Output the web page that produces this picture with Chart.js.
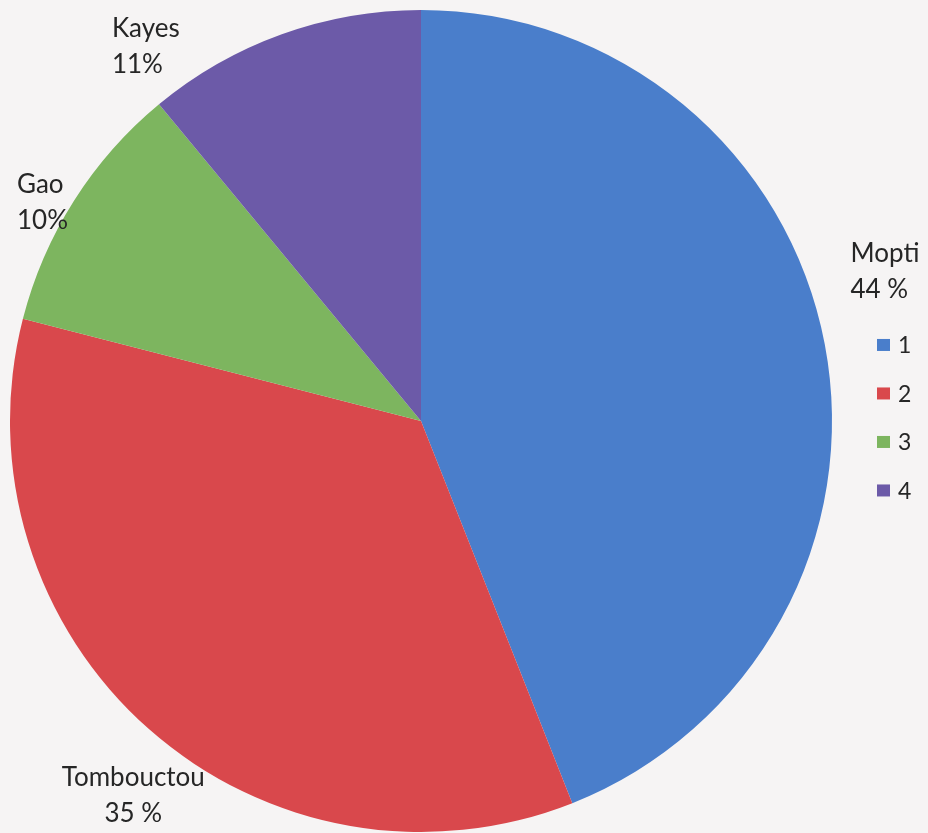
<!DOCTYPE html>
<html>
<head>
<meta charset="utf-8">
<script src="https://cdn.jsdelivr.net/npm/chart.js@4/dist/chart.umd.min.js"></script>
<style>
  html, body { margin: 0; padding: 0; background: #f6f4f4; }
  #wrap { width: 928px; height: 833px; position: relative; }
</style>
</head>
<body>
<div id="wrap"><canvas id="pie" width="928" height="833"></canvas></div>
<script>
// Regions and their shares (%)
const regions = ['Mopti', 'Tombouctou', 'Gao', 'Kayes'];
const shares = [44, 35, 10, 11];
const shareSeparators = [' ', ' ', '', ''];
const legendKeys = ['1', '2', '3', '4'];
const sliceColors = ['#4a7ecb', '#d9484c', '#7db55f', '#6c5aa8'];

// Where each slice's name/percent block sits relative to the pie
// (dx, dy from the pie centre in units of radius; align)
const labelPlacement = [
  { dx: 1.045, dy: -0.408, align: 'left' },
  { dx: -0.70, dy: 0.868, align: 'center' },
  { dx: -0.983, dy: -0.575, align: 'left' },
  { dx: -0.752, dy: -0.955, align: 'left' }
];

const textColor = '#262626';
const labelFont = '26px Lato, "Open Sans", sans-serif';

const sliceLabels = {
  id: 'sliceLabels',
  afterDraw(chart) {
    const { ctx } = chart;
    const arc = chart.getDatasetMeta(0).data[0];
    const cx = arc.x, cy = arc.y, r = arc.outerRadius;
    ctx.save();
    ctx.fillStyle = textColor;
    ctx.font = labelFont;
    ctx.textBaseline = 'middle';
    regions.forEach((name, i) => {
      const p = labelPlacement[i];
      const x = cx + p.dx * r;
      const y = cy + p.dy * r;
      ctx.textAlign = p.align;
      ctx.fillText(name, x, y);
      ctx.fillText(shares[i] + shareSeparators[i] + '%', x, y + 36);
    });

    // legend keys to the right of the pie
    const lx = cx + r + 45;
    const ly = cy - r * 0.185;
    ctx.font = '23px Lato, "Open Sans", sans-serif';
    ctx.textAlign = 'left';
    legendKeys.forEach((k, i) => {
      const y = ly + i * 48.5;
      ctx.fillStyle = sliceColors[i];
      ctx.fillRect(lx, y - 6, 13, 12);
      ctx.fillStyle = textColor;
      ctx.fillText(k, lx + 21, y + 1);
    });
    ctx.restore();
  }
};

new Chart(document.getElementById('pie'), {
  type: 'pie',
  data: {
    labels: legendKeys,
    datasets: [{
      data: shares,
      backgroundColor: sliceColors,
      borderWidth: 0
    }]
  },
  options: {
    responsive: false,
    animation: false,
    layout: { padding: { left: 10, top: 10, right: 96, bottom: 1 } },
    plugins: {
      legend: { display: false },
      tooltip: { enabled: false }
    }
  },
  plugins: [sliceLabels]
});
</script>
</body>
</html>
